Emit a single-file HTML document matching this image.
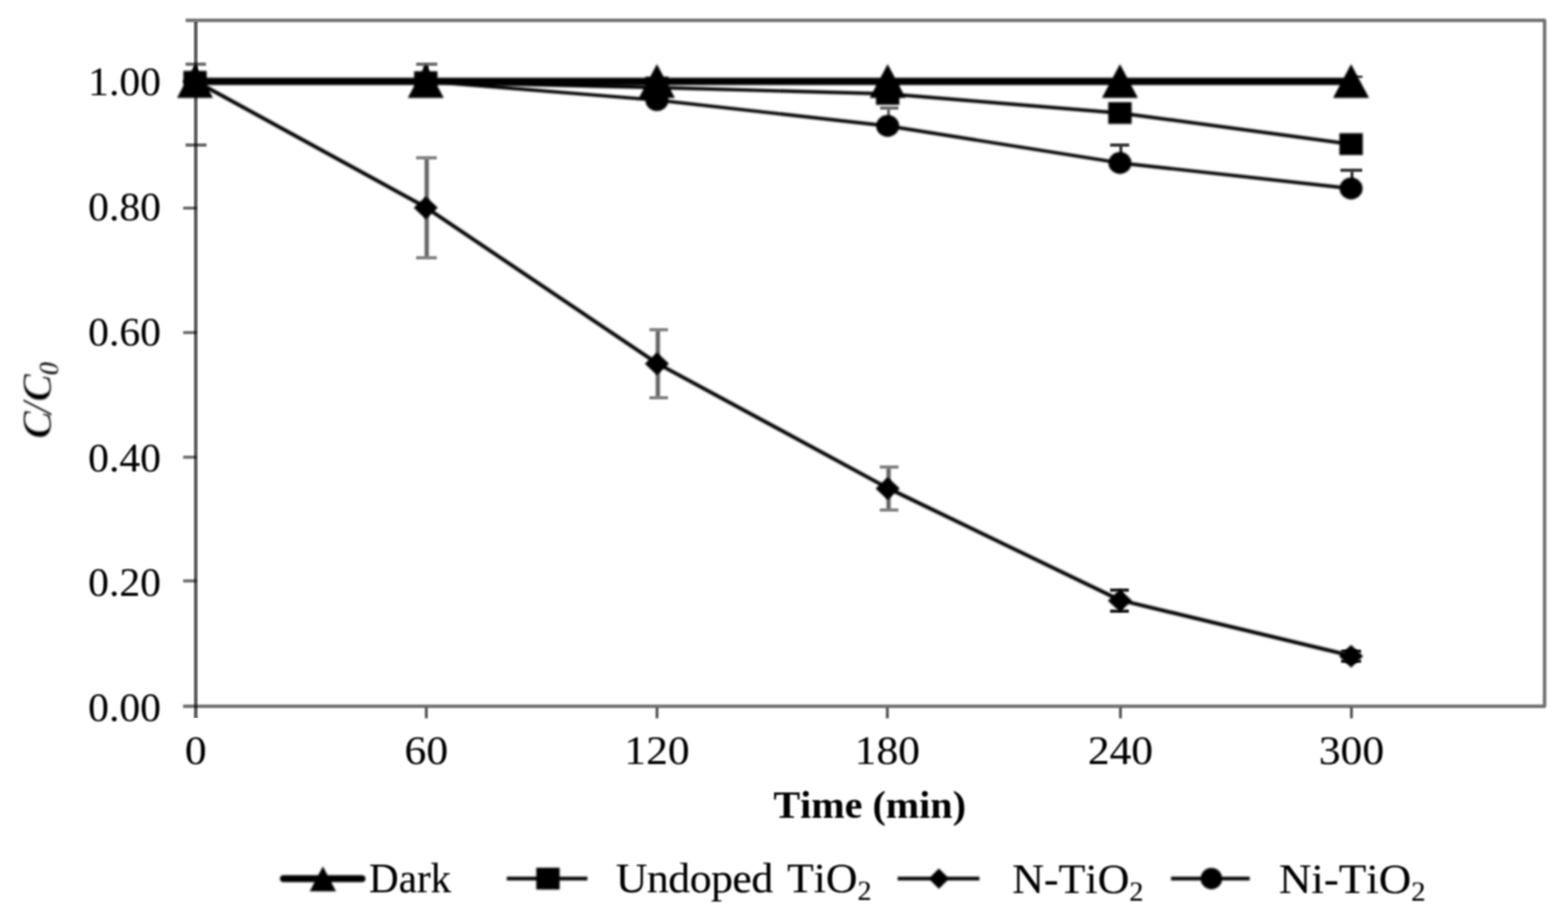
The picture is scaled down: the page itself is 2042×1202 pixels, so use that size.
<!DOCTYPE html>
<html lang="en">
<head>
<meta charset="utf-8">
<title>C/C0 versus time</title>
<style>
html, body { margin: 0; padding: 0; background: #ffffff; }
body { width: 2042px; height: 1202px; overflow: hidden; font-family: "Liberation Serif", serif; }
svg { display: block; }
</style>
</head>
<body>
<svg width="2042" height="1202" viewBox="0 0 2042 1202">
<defs><filter id="b" x="-2%" y="-2%" width="104%" height="104%"><feGaussianBlur stdDeviation="1.4"/></filter><filter id="c" x="-2%" y="-2%" width="104%" height="104%"><feGaussianBlur stdDeviation="1"/></filter></defs>
<rect width="100%" height="100%" fill="#fff"/>
<g stroke="#000" fill="none">
<path d="M254.95 28.6 V935.5" stroke-width="7.2" stroke-opacity="0.08"/>
<path d="M254.95 28.6 V935" stroke-width="5.8" stroke-opacity="0.29"/>
<path d="M254.95 28.6 V934.5" stroke-width="2.8" stroke-opacity="0.44"/>
</g>
<g filter="url(#c)">
<g stroke="#000" fill="none" stroke-linecap="butt">
<path d="M241.7 26.5 H2011.5 V919.7 H238.5" stroke-width="4.4" stroke-opacity="0.56" stroke-linejoin="round"/>
<path d="M238.5 106.0 H256" stroke-width="4.0" stroke-opacity="0.58"/>
<path d="M238.5 271.0 H256" stroke-width="4.0" stroke-opacity="0.58"/>
<path d="M238.5 433.1 H256" stroke-width="4.0" stroke-opacity="0.58"/>
<path d="M238.5 595.4 H256" stroke-width="4.0" stroke-opacity="0.58"/>
<path d="M238.5 756.5 H256" stroke-width="4.0" stroke-opacity="0.58"/>
<path d="M555.2 921.8 V935.5" stroke-width="3.7" stroke-opacity="0.68"/>
<path d="M855.6 921.8 V935.5" stroke-width="3.7" stroke-opacity="0.68"/>
<path d="M1155.6 921.8 V935.5" stroke-width="3.7" stroke-opacity="0.68"/>
<path d="M1459.2 921.8 V935.5" stroke-width="3.7" stroke-opacity="0.68"/>
<path d="M1760.0 921.8 V935.5" stroke-width="3.7" stroke-opacity="0.68"/>
</g>
<path d="M241.6 188.9 H269" stroke="#000" stroke-opacity="0.6" stroke-width="4.2" fill="none"/>
<path d="M555.7 207.50000000000003 V333.70000000000005" stroke="#000" stroke-opacity="0.22" stroke-width="7.6" fill="none"/>
<g stroke="#000" stroke-opacity="0.5" fill="none"><path d="M555.7 207.60000000000002 V333.6" stroke-width="4.4"/><path d="M541.9 205.50000000000003 H568.9" stroke-width="4.2"/><path d="M541.9 335.70000000000005 H568.9" stroke-width="4.2"/></g>
<path d="M856.7 431.4 V516.0" stroke="#000" stroke-opacity="0.22" stroke-width="7.6" fill="none"/>
<g stroke="#000" stroke-opacity="0.5" fill="none"><path d="M856.7 431.5 V515.9" stroke-width="4.4"/><path d="M845.7 429.4 H869.9" stroke-width="4.2"/><path d="M845.7 518.0 H869.9" stroke-width="4.2"/></g>
<path d="M1157.2 610.2 V662.2" stroke="#000" stroke-opacity="0.22" stroke-width="7.6" fill="none"/>
<g stroke="#000" stroke-opacity="0.5" fill="none"><path d="M1157.2 610.3000000000001 V662.1" stroke-width="4.4"/><path d="M1145.7 608.2 H1170.1" stroke-width="4.2"/><path d="M1145.7 664.2 H1170.1" stroke-width="4.2"/></g>
<path d="M1459.7 770.5 V793.9000000000001" stroke="#000" stroke-opacity="0.22" stroke-width="7.6" fill="none"/>
<g stroke="#000" stroke-opacity="0.9" fill="none"><path d="M1459.7 770.6 V793.8000000000001" stroke-width="4.4"/><path d="M1445.7 768.5 H1470.1" stroke-width="4.2"/><path d="M1445.7 795.9000000000001 H1470.1" stroke-width="4.2"/></g>
<path d="M1760.7 850.1 V859.1" stroke="#000" stroke-opacity="0.22" stroke-width="7.6" fill="none"/>
<g stroke="#000" stroke-opacity="0.9" fill="none"><path d="M1760.7 850.2 V859.0" stroke-width="4.4"/><path d="M1746.5 848.1 H1772.5" stroke-width="4.2"/><path d="M1746.5 861.1 H1772.5" stroke-width="4.2"/></g>
<g stroke="#000" stroke-opacity="0.6" fill="none"><path d="M255.2 85.69999999999999 V106.0" stroke-width="4.0"/><path d="M241.7 83.6 H268.2" stroke-width="4.2"/></g>
<g stroke="#000" stroke-opacity="0.6" fill="none"><path d="M555.7 85.69999999999999 V106.0" stroke-width="4.0"/><path d="M542.0 83.6 H569.5" stroke-width="4.2"/></g>
<g stroke="#000" stroke-opacity="0.6" fill="none"><path d="M856.7 109.69999999999999 V130.4" stroke-width="4.0"/><path d="M843.0 107.6 H868.0" stroke-width="4.2"/></g>
<g stroke="#000" stroke-opacity="0.6" fill="none"><path d="M1157.2 142.79999999999998 V164.0" stroke-width="4.0"/><path d="M1146.2 140.7 H1170.0" stroke-width="4.2"/></g>
<g stroke="#000" stroke-opacity="0.8" fill="none"><path d="M1459.7 191.0 V212.2" stroke-width="4.0"/><path d="M1445.7 188.9 H1470.6" stroke-width="4.2"/></g>
<g stroke="#000" stroke-opacity="0.8" fill="none"><path d="M1760.7 223.79999999999998 V245.5" stroke-width="4.0"/><path d="M1745.7 221.7 H1774.0" stroke-width="4.2"/></g>
<path d="M1765 100 H1774.5" stroke="#111" stroke-width="2.4" fill="none"/>
</g>
<g filter="url(#b)">
<path d="M254.0 106 H1759.5" stroke="#000" stroke-width="9.5" fill="none"/>
<path d="M254.0 83.6 L277.4 127.4 H230.6 Z" fill="#000"/>
<path d="M554.5 83.6 L577.9 127.4 H531.1 Z" fill="#000"/>
<path d="M855.5 83.6 L878.9 127.4 H832.1 Z" fill="#000"/>
<path d="M1156.0 83.6 L1179.4 127.4 H1132.6 Z" fill="#000"/>
<path d="M1458.5 83.6 L1481.9 127.4 H1435.1 Z" fill="#000"/>
<path d="M1759.5 83.6 L1782.9 127.4 H1736.1 Z" fill="#000"/>
<rect x="551.3" y="85.5" width="6.4" height="9" fill="#000"/>
<polyline points="254.0,106.5 554.5,107.0 855.5,114.0 1156.0,122.3 1458.5,147.2 1759.5,187.7" stroke="#000" stroke-width="4.4" fill="none" stroke-linejoin="round"/>
<rect x="238.8" y="92.3" width="30.4" height="28.4" fill="#000"/>
<rect x="539.3" y="92.8" width="30.4" height="28.4" fill="#000"/>
<rect x="840.3" y="99.8" width="30.4" height="28.4" fill="#000"/>
<rect x="1140.8" y="108.1" width="30.4" height="28.4" fill="#000"/>
<rect x="1443.3" y="133.0" width="30.4" height="28.4" fill="#000"/>
<rect x="1744.3" y="173.5" width="30.4" height="28.4" fill="#000"/>
<polyline points="254.0,105.3 554.5,269.9 855.5,473.0 1156.0,635.5 1458.5,781.5 1759.5,853.9" stroke="#000" stroke-width="4.8" fill="none" stroke-linejoin="round"/>
<path d="M254.0 91.7 L269.2 106.0 L254.0 120.3 L238.8 106.0 Z" fill="#000" stroke="#000" stroke-width="1" stroke-linejoin="round"/>
<path d="M554.5 256.3 L569.7 270.6 L554.5 284.90000000000003 L539.3 270.6 Z" fill="#000" stroke="#000" stroke-width="1" stroke-linejoin="round"/>
<path d="M855.5 459.4 L870.7 473.7 L855.5 488.0 L840.3 473.7 Z" fill="#000" stroke="#000" stroke-width="1" stroke-linejoin="round"/>
<path d="M1156.0 621.9000000000001 L1171.2 636.2 L1156.0 650.5 L1140.8 636.2 Z" fill="#000" stroke="#000" stroke-width="1" stroke-linejoin="round"/>
<path d="M1458.5 767.9000000000001 L1473.7 782.2 L1458.5 796.5 L1443.3 782.2 Z" fill="#000" stroke="#000" stroke-width="1" stroke-linejoin="round"/>
<path d="M1759.5 840.3000000000001 L1774.7 854.6 L1759.5 868.9 L1744.3 854.6 Z" fill="#000" stroke="#000" stroke-width="1" stroke-linejoin="round"/>
<polyline points="254.0,106.0 554.5,106.0 855.5,130.4 1156.0,164.0 1458.5,212.2 1759.5,245.5" stroke="#000" stroke-width="4.4" fill="none" stroke-linejoin="round"/>
<ellipse cx="254.0" cy="106.0" rx="15" ry="14.2" fill="#000"/>
<ellipse cx="554.5" cy="106.0" rx="15" ry="14.2" fill="#000"/>
<ellipse cx="855.5" cy="130.4" rx="15" ry="14.2" fill="#000"/>
<ellipse cx="1156.0" cy="164.0" rx="15" ry="14.2" fill="#000"/>
<ellipse cx="1458.5" cy="212.2" rx="15" ry="14.2" fill="#000"/>
<ellipse cx="1759.5" cy="245.5" rx="15" ry="14.2" fill="#000"/>
<path d="M369 1144.2 H471.5" stroke="#000" stroke-width="9" stroke-linecap="round" fill="none"/>
<path d="M420.5 1128.2 L437.6 1160.8 H403.4 Z" fill="#000"/>
<path d="M660 1144.2 H765" stroke="#000" stroke-width="4.8" fill="none"/>
<rect x="698.4" y="1130" width="30.4" height="28.4" fill="#000"/>
<path d="M1169 1144.2 H1275.5" stroke="#000" stroke-width="4.8" fill="none"/>
<path d="M1222.7 1131 L1236 1144.2 L1222.7 1157.6 L1209.4 1144.2 Z" fill="#000"/>
<path d="M1525 1144.2 H1627.5" stroke="#000" stroke-width="4.8" fill="none"/>
<ellipse cx="1577.6" cy="1144.2" rx="14" ry="14" fill="#000"/>
</g>
<g filter="url(#c)" font-family="'Liberation Serif', 'DejaVu Serif', serif" style="font-kerning:none" fill="#000">
<text transform="translate(209.6 124.4) scale(1.022 1)" font-size="53" text-anchor="end" font-weight="normal" font-style="normal" fill="#000" stroke="#000" stroke-width="0.12">1.00</text>
<text transform="translate(209.6 287.4) scale(1.022 1)" font-size="53" text-anchor="end" font-weight="normal" font-style="normal" fill="#000" stroke="#000" stroke-width="0.12">0.80</text>
<text transform="translate(209.6 450.4) scale(1.022 1)" font-size="53" text-anchor="end" font-weight="normal" font-style="normal" fill="#000" stroke="#000" stroke-width="0.12">0.60</text>
<text transform="translate(209.6 613.9) scale(1.022 1)" font-size="53" text-anchor="end" font-weight="normal" font-style="normal" fill="#000" stroke="#000" stroke-width="0.12">0.40</text>
<text transform="translate(209.6 776.4) scale(1.022 1)" font-size="53" text-anchor="end" font-weight="normal" font-style="normal" fill="#000" stroke="#000" stroke-width="0.12">0.20</text>
<text transform="translate(209.6 938.9) scale(1.022 1)" font-size="53" text-anchor="end" font-weight="normal" font-style="normal" fill="#000" stroke="#000" stroke-width="0.12">0.00</text>
<text transform="translate(255.0 995.2) scale(1.07 1)" font-size="53" text-anchor="middle" font-weight="normal" font-style="normal" fill="#000" stroke="#000" stroke-width="0.12">0</text>
<text transform="translate(555.2 995.2) scale(1.07 1)" font-size="53" text-anchor="middle" font-weight="normal" font-style="normal" fill="#000" stroke="#000" stroke-width="0.12">60</text>
<text transform="translate(855.6 995.2) scale(1.07 1)" font-size="53" text-anchor="middle" font-weight="normal" font-style="normal" fill="#000" stroke="#000" stroke-width="0.12">120</text>
<text transform="translate(1155.6 995.2) scale(1.07 1)" font-size="53" text-anchor="middle" font-weight="normal" font-style="normal" fill="#000" stroke="#000" stroke-width="0.12">180</text>
<text transform="translate(1459.2 995.2) scale(1.07 1)" font-size="53" text-anchor="middle" font-weight="normal" font-style="normal" fill="#000" stroke="#000" stroke-width="0.12">240</text>
<text transform="translate(1760.0 995.2) scale(1.07 1)" font-size="53" text-anchor="middle" font-weight="normal" font-style="normal" fill="#000" stroke="#000" stroke-width="0.12">300</text>
<text transform="translate(1132.6 1064.6) scale(1.012 1)" font-size="51.6" text-anchor="middle" font-weight="bold" font-style="normal" fill="#000">Time (min)</text>
<text transform="translate(480.6 1161.5) scale(0.992 1)" font-size="54" text-anchor="start" font-weight="normal" font-style="normal" fill="#000" stroke="#000" stroke-width="0.2">Dark</text>
<text transform="translate(802 1162.0) scale(1.036 1)" font-size="55" text-anchor="start" font-weight="normal" font-style="normal" fill="#000" stroke="#000" stroke-width="0.2"><tspan letter-spacing="-0.62">Undoped</tspan> <tspan x="215.25">TiO</tspan><tspan font-size="35.2" dy="10">2</tspan></text>
<text transform="translate(1318.2 1162.6) scale(1.04 1)" font-size="55" text-anchor="start" font-weight="normal" font-style="normal" fill="#000" stroke="#000" stroke-width="0.2">N-TiO<tspan font-size="35.2" dy="10">2</tspan></text>
<text transform="translate(1665.4 1162.6) scale(1.065 1)" font-size="55" text-anchor="start" font-weight="normal" font-style="normal" fill="#000" stroke="#000" stroke-width="0.2">Ni-TiO<tspan font-size="35.2" dy="10">2</tspan></text>
<text transform="translate(66.3 571.5) rotate(-90) scale(1 1.0)" font-size="54.5" font-weight="bold" font-style="italic" fill="#000" stroke="#fff" stroke-width="0.7">C<tspan dx="-3.3">/</tspan>C<tspan font-size="37.1" dx="-2.4" dy="9.8">0</tspan></text>
</g>
</svg>
</body>
</html>
